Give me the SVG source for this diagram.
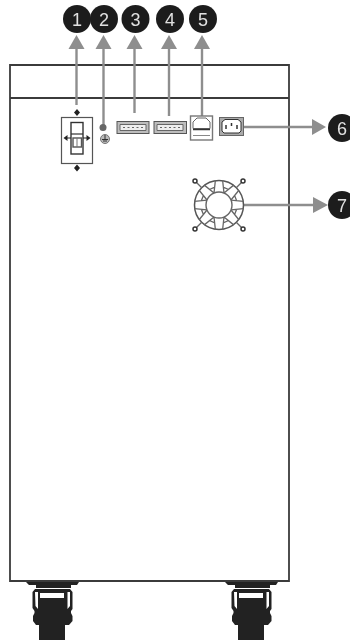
<svg xmlns="http://www.w3.org/2000/svg" width="350" height="640" viewBox="0 0 350 640">
<defs>
<style>
.ln{fill:none;stroke:#555;stroke-width:1.200}
.cab{fill:none;stroke:#3a3a3a;stroke-width:1.800}
.ar{fill:none;stroke:#8e8e8e;stroke-width:2.400}
.ah{fill:#8e8e8e}
.bd{fill:#1f1f1f}
.num{font-family:"Liberation Sans",Arial,sans-serif;font-size:18px;fill:#e0e0e0;text-anchor:middle}
.dk{fill:#222}
.w{fill:#fff}
.sp{fill:none;stroke:#666;stroke-width:1.300}
</style>
<filter id="soft" filterUnits="userSpaceOnUse" x="0" y="0" width="350" height="640"><feGaussianBlur stdDeviation="0.450"/></filter>
<path id="spoke" class="sp" d="M0 -13L-6 -24M0 -13L6 -24M-3 -18H3"/>
<g id="caster">
<path class="dk" d="M26 582H79L77 585H71V588H36V585H29Z"/>
<path class="dk" d="M35 589H70L72.500 592V609L71 611V613L72.500 616V621L69 625H65V640H39V625H36L33 621V616L34.500 613V611L32.500 608V592Z"/>
<path class="w" d="M35 592H38V609L35.500 606ZM67.500 592H70V606L67.500 609Z"/>
<rect class="w" x="40" y="593" width="24" height="5"/>
</g>
</defs>
<rect width="350" height="640" fill="#fff"/>
<g filter="url(#soft)">
<g id="cabinet">
<path class="cab" d="M10 65H289V581H10Z"/>
<path class="cab" d="M10 98H289"/>
</g>
<g id="connectors">
<path class="ar" d="M76.500 105V46"/><path class="ah" d="M76.500 35L68.500 49H84.500Z"/>
<path class="ar" d="M103.500 125V46"/><path class="ah" d="M103.500 35L95.500 49H111.500Z"/>
<path class="ar" d="M134.500 113V46"/><path class="ah" d="M134.500 35L126.500 49H142.500Z"/>
<path class="ar" d="M169 116V46"/><path class="ah" d="M169 35L161 49H177Z"/>
<path class="ar" d="M202 116V46"/><path class="ah" d="M202 35L194 49H210Z"/>
<path class="ar" d="M244 127H315"/><path class="ah" d="M326 127L312 119V135Z"/>
<path class="ar" d="M243 205H316"/><path class="ah" d="M328 205L313 197V213Z"/>
</g>
<g id="n1"><circle class="bd" cx="77" cy="19" r="14"/><text class="num" x="77" y="25.500">1</text></g>
<g id="n2"><circle class="bd" cx="104" cy="19" r="14"/><text class="num" x="104" y="25.500">2</text></g>
<g id="n3"><circle class="bd" cx="135.500" cy="19" r="14"/><text class="num" x="135.500" y="25.500">3</text></g>
<g id="n4"><circle class="bd" cx="170" cy="19" r="14"/><text class="num" x="170" y="25.500">4</text></g>
<g id="n5"><circle class="bd" cx="203" cy="19" r="14"/><text class="num" x="203" y="25.500">5</text></g>
<g id="n6"><circle class="bd" cx="342" cy="128" r="14"/><text class="num" x="342" y="134.500">6</text></g>
<g id="n7"><circle class="bd" cx="342" cy="205" r="14"/><text class="num" x="342" y="211.500">7</text></g>
<g id="switch">
<rect class="ln" x="61.500" y="117.500" width="31" height="46"/>
<rect x="71" y="122.500" width="12" height="31.500" fill="none" stroke="#333" stroke-width="1.400"/>
<path d="M71 134H83" stroke="#333" stroke-width="1.200"/>
<rect x="73" y="138" width="8.500" height="9" fill="none" stroke="#555" stroke-width="1.400"/>
<path d="M77 138V147" stroke="#777"/>
<path d="M65 138H71M83 138H89" stroke="#222" stroke-width="1"/>
<path class="dk" d="M63.500 138L67.500 135V141ZM90.500 138L86.500 135V141ZM77 109L80 112.500 77 116 74 112.500ZM77 164.500L80 168 77 171.500 74 168Z"/>
</g>
<g id="ground">
<circle cx="103" cy="127.500" r="3.500" fill="#666"/>
<circle cx="105" cy="139" r="4.500" fill="#bbb" stroke="#777"/>
<path d="M105 135V139M102 139.500H108M103 141H107" stroke="#333" stroke-width="1" fill="none"/>
</g>
<g id="port3">
<rect x="117" y="121.500" width="32" height="12" fill="#bdbdbd" stroke="#555" stroke-width="1"/>
<path d="M120 124.500H146V130.500H120Z" fill="#eee" stroke="#666"/>
<path d="M123 127.500H143" stroke="#666" stroke-dasharray="2 2.500"/>
</g>
<g id="port4">
<rect x="154" y="121.500" width="32.500" height="12" fill="#bdbdbd" stroke="#555" stroke-width="1"/>
<path d="M157 124.500H183V130.500H157Z" fill="#eee" stroke="#666"/>
<path d="M160 127.500H180" stroke="#666" stroke-dasharray="2 2.500"/>
</g>
<g id="port5">
<rect x="190.500" y="116" width="22" height="24" fill="#fff" stroke="#777" stroke-width="1.400"/>
<path d="M193 128.500V122L197 118H206L210 122V128.500Z" fill="#fff" stroke="#666"/>
<path d="M193 129.500H210" stroke="#333" stroke-width="1.500"/>
<path d="M193 135.500H210" stroke="#888"/>
</g>
<g id="port6">
<rect x="219.500" y="117.500" width="24" height="18" fill="#aaa" stroke="#666"/>
<path d="M222 122L225 119.500H238L241 122V131L239 133H224L222 131Z" fill="#fff" stroke="#333"/>
<path d="M226 125V129M231.500 123V126M237 125V129" stroke="#333" stroke-width="1.500"/>
</g>
<g id="fan">
<circle cx="219" cy="205" r="24.500" fill="#fff" stroke="#555" stroke-width="1.500"/>
<circle cx="219" cy="205" r="13" fill="#fff" stroke="#666" stroke-width="1.400"/>
<g transform="translate(219 205)">
<use href="#spoke" transform="rotate(22.500)"/><use href="#spoke" transform="rotate(67.500)"/><use href="#spoke" transform="rotate(112.500)"/><use href="#spoke" transform="rotate(157.500)"/>
<use href="#spoke" transform="rotate(202.500)"/><use href="#spoke" transform="rotate(247.500)"/><use href="#spoke" transform="rotate(292.500)"/><use href="#spoke" transform="rotate(337.500)"/>
</g>
<path d="M243 181L236 188M195 181L202 188M243 229L236 222M195 229L202 222" stroke="#666" stroke-width="1.400"/>
<g fill="#fff" stroke="#333" stroke-width="1.500"><circle cx="243" cy="181" r="2"/><circle cx="243" cy="229" r="2"/><circle cx="195" cy="181" r="2"/><circle cx="195" cy="229" r="2"/></g>
</g>
<use id="caster-left" href="#caster"/>
<use id="caster-right" href="#caster" x="199"/>
</g>
</svg>
